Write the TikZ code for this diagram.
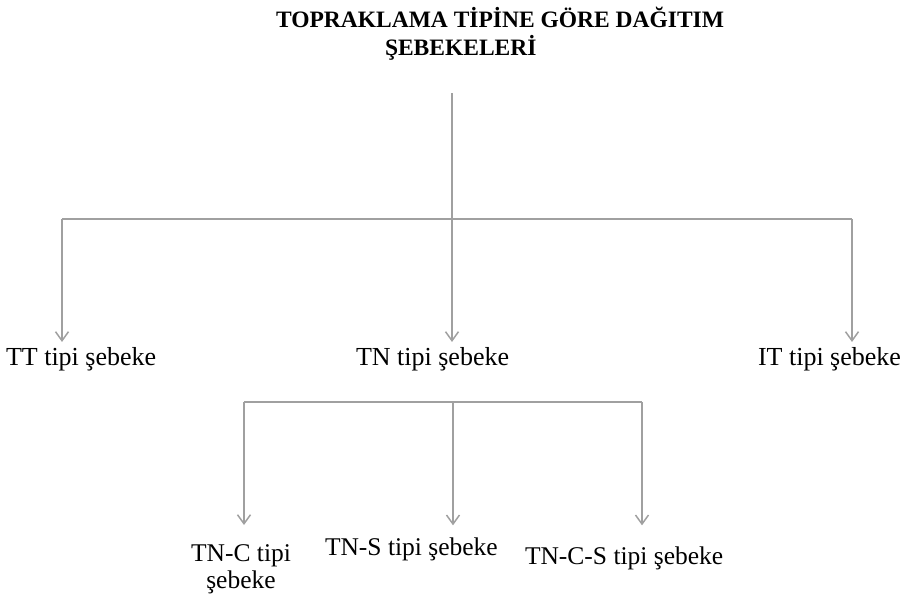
\documentclass[tikz,border=0pt]{standalone}
\usepackage{fontspec}
\setmainfont{Liberation Serif}
\usetikzlibrary{arrows.meta}
\definecolor{linegray}{RGB}{160,160,160}
\begin{document}
\begin{tikzpicture}[x=1pt,y=-1pt,
  every node/.style={inner sep=0pt,outer sep=0pt,text=black},
  titletext/.style={font=\fontsize{23.5}{27}\selectfont\bfseries,anchor=base west},
  leaftext/.style={font=\fontsize{26}{28}\selectfont,anchor=base west},
  subtext/.style={font=\fontsize{25.5}{27}\selectfont,anchor=base west},
  link/.style={draw=linegray,line width=1.7pt},
  arrowlink/.style={link,-{Straight Barb[length=9pt,width=13pt,line width=1.5pt]}}]
\useasboundingbox (0,0) rectangle (907,598);

% title
\node[titletext] (t1) at (276,27) {TOPRAKLAMA TİPİNE GÖRE DAĞITIM};
\node[titletext] (t2) at (385,55) {ŞEBEKELERİ};

% first level
\node[leaftext] (tt) at (6,365) {TT tipi şebeke};
\node[leaftext] (tn) at (356,365) {TN tipi şebeke};
\node[leaftext] (it) at (758,365) {IT tipi şebeke};

% second level
\node[font=\fontsize{25.5}{27}\selectfont,align=center,anchor=north] (tnc) at (241,545) {TN-C tipi\\şebeke};
\node[subtext] (tns) at (325,555) {TN-S tipi şebeke};
\node[subtext] (tncs) at (525,564) {TN-C-S tipi şebeke};

% junction points
\coordinate (root) at (452,93);
\coordinate (jl) at (62,219);
\coordinate (jr) at (852,219);
\coordinate (kl) at (244,402);
\coordinate (km) at (453,402);
\coordinate (kr) at (642,402);

% upper tree
\draw[arrowlink,shorten >=5pt] (root) -- (root |- tn.north);
\draw[link] (jl) -- (jr);
\draw[arrowlink,shorten >=5pt] (jl) -- (jl |- tt.north);
\draw[arrowlink,shorten >=5pt] (jr) -- (jr |- it.north);

% lower tree
\draw[link] (kl) -- (kr);
\draw[arrowlink,shorten >=20pt] (kl) -- (kl |- tnc.north);
\draw[arrowlink,shorten >=12pt] (km) -- (km |- tns.north);
\draw[arrowlink,shorten >=21pt] (kr) -- (kr |- tncs.north);
\end{tikzpicture}
\end{document}
